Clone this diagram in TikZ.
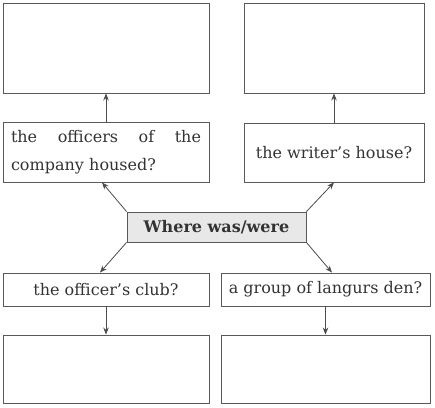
\documentclass[tikz,border=0pt]{standalone}
\usepackage{fontspec}
\setmainfont{DejaVu Serif}
\usetikzlibrary{arrows.meta}

\begin{document}
\begin{tikzpicture}[x=1pt,y=-1pt,>={Stealth[length=7pt,width=5.5pt]},
  every node/.style={font=\fontsize{16}{28}\selectfont,text=black!80},
  box/.style={draw=black!65,line width=0.9pt,inner sep=0pt,align=center},
  hub/.style={box,fill=black!9,font=\fontsize{16}{28}\selectfont\bfseries},
  link/.style={->,draw=black!70,line width=0.8pt}]
\useasboundingbox (0,0) rectangle (435,407);
% answer boxes
\node[box,minimum width=206pt,minimum height=90pt] (topL) at (106,48) {};
\node[box,minimum width=180pt,minimum height=90pt] (topR) at (334,48) {};
\node[box,minimum width=206pt,minimum height=68pt] (botL) at (106,369) {};
\node[box,minimum width=209pt,minimum height=68pt] (botR) at (325.5,369) {};
% question boxes
\node[box,minimum width=206pt,minimum height=60pt,text width=190pt,align=left] (midL) at (106,152)
  {\makebox[190pt][l]{the\hfill officers\hfill of\hfill the}\\company housed?};
\node[box,minimum width=180pt,minimum height=59pt] (midR) at (334,152.5) {the writer’s house?};
\node[box,minimum width=206pt,minimum height=33pt] (lowL) at (106,289.5) {the officer’s club?};
\node[box,minimum width=209pt,minimum height=33pt] (lowR) at (325.5,289.5) {a group of langurs den?};
\node[hub,minimum width=179pt,minimum height=30pt] (where) at (216.5,227) {Where was/were};
% connectors
\draw[link] (where.north west) -- ([xshift=-4pt]midL.south);
\draw[link] (where.north east) -- (midR.south);
\draw[link] (where.south west) -- ([xshift=-6pt]lowL.north);
\draw[link] (where.south east) -- ([xshift=6.5pt]lowR.north);
\draw[link] (midL) -- (topL);
\draw[link] (midR) -- (topR);
\draw[link] (lowL) -- (botL);
\draw[link] (lowR) -- (botR);
\end{tikzpicture}
\end{document}
